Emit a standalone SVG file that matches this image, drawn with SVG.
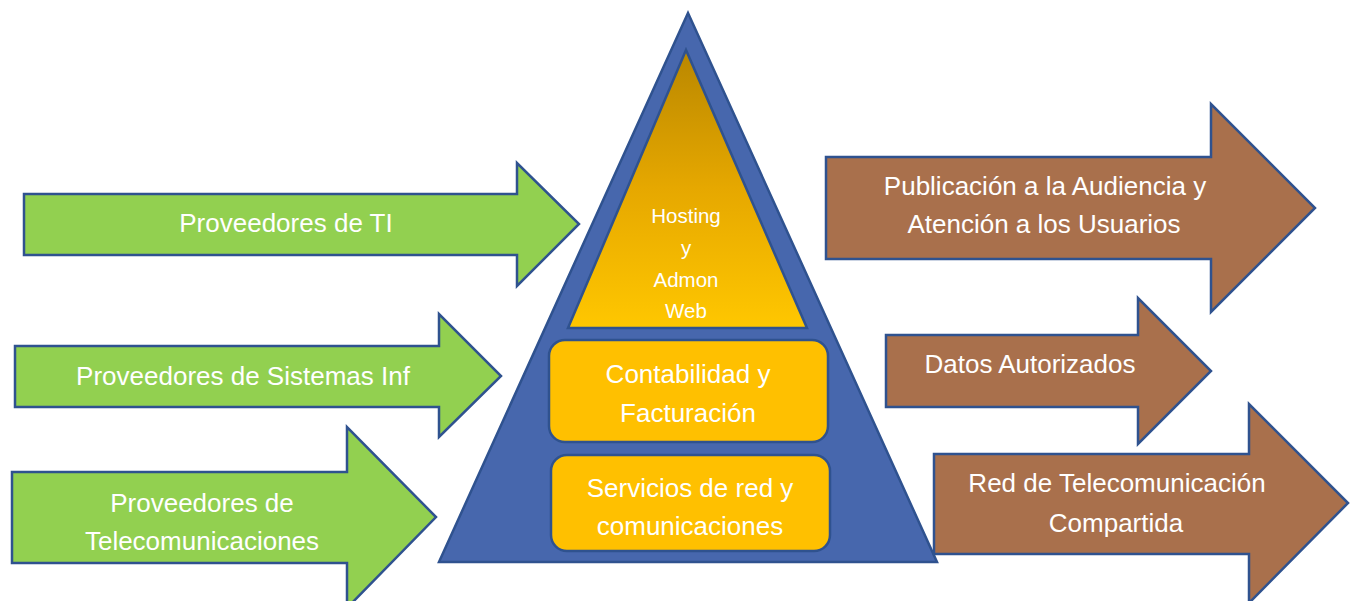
<svg xmlns="http://www.w3.org/2000/svg" width="1356" height="601" viewBox="0 0 1356 601">
<defs>
<linearGradient id="gold" x1="0" y1="50" x2="0" y2="328" gradientUnits="userSpaceOnUse">
<stop offset="0" stop-color="#B98700"/>
<stop offset="0.5" stop-color="#E6A800"/>
<stop offset="1" stop-color="#FFC700"/>
</linearGradient>
<style>
.green{fill:#92D050;stroke:#2F528F;stroke-width:2.5;stroke-linejoin:miter}
.brown{fill:#A9704C;stroke:#2F528F;stroke-width:2.5;stroke-linejoin:miter}
.box{fill:#FFC000;stroke:#2F528F;stroke-width:2.5}
.t{font-family:"Liberation Sans",Arial,sans-serif;font-size:26px;fill:#FFFFFF;text-anchor:middle}
.s{font-family:"Liberation Sans",Arial,sans-serif;font-size:20.5px;fill:#FFFFFF;text-anchor:middle}
</style>
</defs>
<rect width="1356" height="601" fill="#FFFFFF"/>
<g id="pyramid">
<polygon points="688,13 439,562 937,562" fill="#4767AD" stroke="#2F528F" stroke-width="2.5" stroke-linejoin="miter"/>
</g>
<g id="hosting">
<polygon points="686,50 568,328 807,328" fill="url(#gold)" stroke="#2F528F" stroke-width="2.5"/>
<text class="s" x="686" y="223">Hosting</text>
<text class="s" x="686" y="255">y</text>
<text class="s" x="686" y="287">Admon</text>
<text class="s" x="686" y="318">Web</text>
</g>
<g id="contabilidad">
<rect class="box" x="549" y="340" width="279" height="102" rx="16"/>
<text class="t" x="688" y="383">Contabilidad y</text>
<text class="t" x="688" y="422">Facturación</text>
</g>
<g id="servicios">
<rect class="box" x="551" y="455" width="279" height="96" rx="16"/>
<text class="t" x="690" y="497">Servicios de red y</text>
<text class="t" x="690" y="535">comunicaciones</text>
</g>
<g id="connectors">
<g id="prov-ti">
<polygon class="green" points="24,194 517,194 517,163 579,224 517,286 517,255 24,255"/>
<text class="t" x="286" y="232">Proveedores de TI</text>
</g>
<g id="prov-si">
<polygon class="green" points="15,346 439,346 439,314 501,376 439,437 439,407 15,407"/>
<text class="t" x="243" y="385">Proveedores de Sistemas Inf</text>
</g>
<g id="prov-tel">
<polygon class="green" points="12,472 347,472 347,427 436,517 347,608 347,563 12,563"/>
<text class="t" x="202" y="512">Proveedores de</text>
<text class="t" x="202" y="550">Telecomunicaciones</text>
</g>
<g id="publicacion">
<polygon class="brown" points="826,157 1211,157 1211,104 1315,208 1211,312 1211,259 826,259"/>
<text class="t" x="1045" y="195">Publicación a la Audiencia y</text>
<text class="t" x="1044" y="233">Atención a los Usuarios</text>
</g>
<g id="datos">
<polygon class="brown" points="886,335 1138,335 1138,298 1211,371 1138,444 1138,407 886,407"/>
<text class="t" x="1030" y="373">Datos Autorizados</text>
</g>
<g id="red">
<polygon class="brown" points="934,454 1249,454 1249,404 1348,503 1249,603 1249,554 934,554"/>
<text class="t" x="1117" y="492">Red de Telecomunicación</text>
<text class="t" x="1116" y="532">Compartida</text>
</g>
</g>
</svg>
